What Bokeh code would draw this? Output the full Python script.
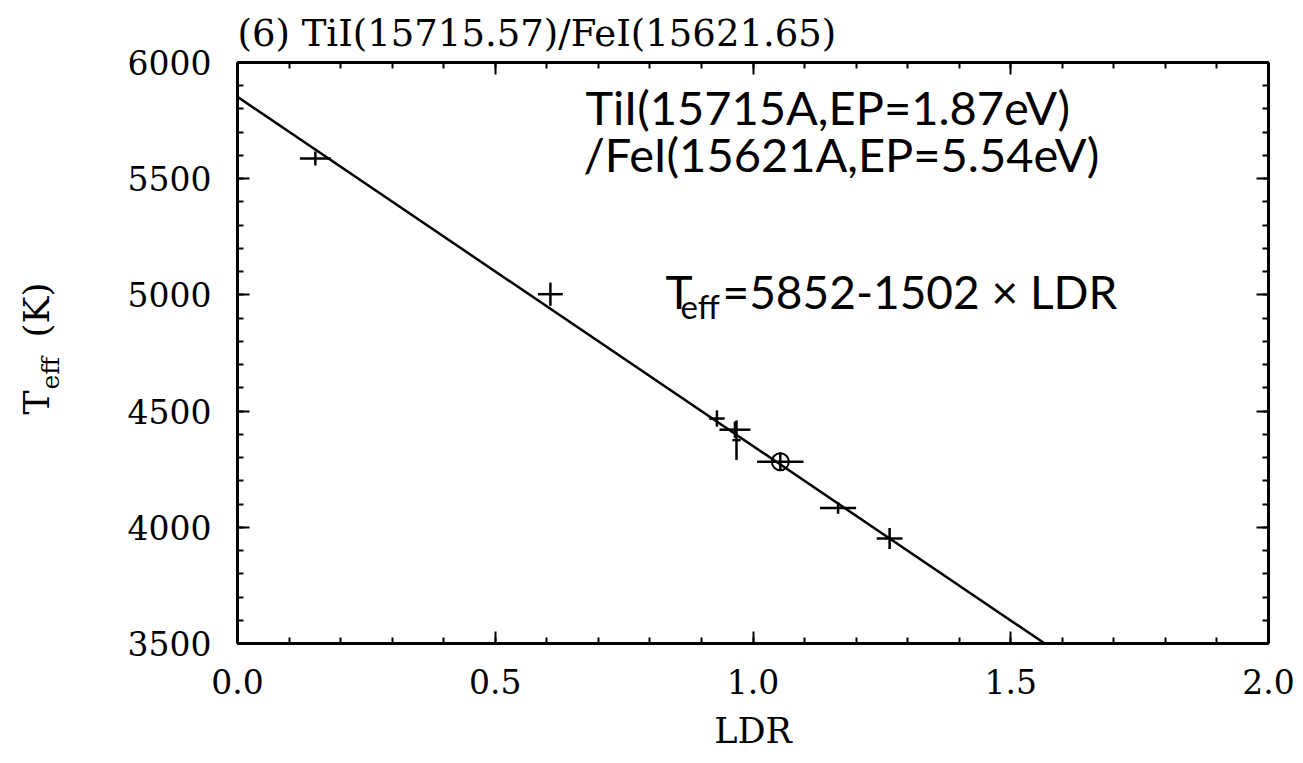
import math
from bokeh.plotting import figure
from bokeh.layouts import row
from bokeh.models import (Range1d, LinearAxis, FixedTicker, Label, CustomJSTickFormatter,
                          PrintfTickFormatter)
from bokeh.embed import file_html
from bokeh.resources import INLINE

# ---- data ----
ldr = [0.151, 0.607, 0.930, 0.965, 0.968, 1.053, 1.165, 1.265]
teff = [5587, 5003, 4468, 4420, 4375, 4282, 4083, 3952]
ldr_err = [0.030, 0.024, 0.015, 0.030, 0.008, 0.045, 0.035, 0.025]
teff_err = [30, 50, 35, 35, 85, 40, 25, 45]
circled = [5]
fit_a, fit_b = 5852, -1502
x_ticks = [0.0, 0.5, 1.0, 1.5, 2.0]
y_ticks = [3500, 4000, 4500, 5000, 5500, 6000]
title_text = "(6) TiI(15715.57)/FeI(15621.65)"

SERIF = "DejaVu Serif"
SANS = "Lato"

W, H = 1303, 763
LW = 90                 # width of the strip holding the y-axis title
FL, FB = 237, 643       # main frame left / bottom in page pixels
BASE = 0.36             # alphabetic-baseline correction (fraction of font size)
YSHIFT = 116            # empirical vertical correction in the strip

# ---------- strip with the rotated y-axis title ----------
yf = figure(width=LW, height=H, output_backend="svg", toolbar_location=None,
            x_range=Range1d(0, 1), y_range=Range1d(0, 1),
            x_axis_location=None, y_axis_location=None,
            min_border_left=0, min_border_right=0, min_border_top=0, min_border_bottom=0)
yf.grid.visible = False
yf.outline_line_color = None
yf.border_fill_color = "white"
yf.background_fill_color = "white"


def ylab(cx, cy, text, size):
    yf.add_layout(Label(x=cx - BASE * size, y=H - cy - YSHIFT, x_units="screen",
                        y_units="screen", angle=math.pi / 2, text=text, text_font=SERIF,
                        text_font_size=f"{size}px", text_color="black",
                        text_baseline="alphabetic", text_align="left"))


ylab(49, 418, "T", 36)
ylab(59, 393, "eff", 25)
ylab(49, 341, "(K)", 36)

# ---------- main plot ----------
p = figure(width=W - LW, height=H, output_backend="svg", toolbar_location=None,
           x_range=Range1d(0, 2.0), y_range=Range1d(3500, 6000),
           x_axis_location=None, y_axis_location=None,
           min_border_left=FL - LW, min_border_right=35, min_border_top=62,
           min_border_bottom=H - FB)
p.grid.visible = False
p.outline_line_color = None
p.background_fill_color = "white"
p.border_fill_color = "white"

p.title.text = title_text
p.title.text_font = SERIF
p.title.text_font_size = "37px"
p.title.text_font_style = "normal"
p.title.text_color = "black"
p.title.align = "left"
p.title.standoff = 15


def style(ax, show):
    ax.axis_line_width = 3
    ax.axis_line_color = "black"
    ax.major_tick_in = 12
    ax.major_tick_out = 0
    ax.minor_tick_in = 6
    ax.minor_tick_out = 0
    ax.major_tick_line_width = 2
    ax.minor_tick_line_width = 2
    ax.major_label_text_font = SERIF
    ax.major_label_text_font_size = "33px"
    ax.major_label_text_color = "black"
    if not show:
        ax.formatter = CustomJSTickFormatter(code="return ''")
        ax.major_label_text_font_size = "1px"
        ax.major_label_standoff = 0


xt = FixedTicker(ticks=x_ticks, minor_ticks=[i / 10 for i in range(21)])
yt = FixedTicker(ticks=y_ticks, minor_ticks=list(range(3500, 6001, 100)))

for loc in ["below", "above"]:
    ax = LinearAxis(ticker=xt)
    style(ax, loc == "below")
    if loc == "below":
        ax.formatter = PrintfTickFormatter(format="%.1f")
        ax.major_label_standoff = 25
        ax.axis_label = "LDR"
        ax.axis_label_text_font = SERIF
        ax.axis_label_text_font_size = "35px"
        ax.axis_label_text_font_style = "normal"
        ax.axis_label_text_color = "black"
        ax.axis_label_standoff = 14
    p.add_layout(ax, loc)

for loc in ["left", "right"]:
    ax = LinearAxis(ticker=yt)
    style(ax, loc == "left")
    if loc == "left":
        ax.major_label_standoff = 26
    p.add_layout(ax, loc)

# fit line
xs = [0.0, 2.0]
p.line(xs, [fit_a + fit_b * x for x in xs], line_color="black", line_width=2.5)

# error bars
p.segment(x0=[x - e for x, e in zip(ldr, ldr_err)], y0=teff,
          x1=[x + e for x, e in zip(ldr, ldr_err)], y1=teff,
          line_color="black", line_width=2.5)
p.segment(x0=ldr, y0=[y - e for y, e in zip(teff, teff_err)],
          x1=ldr, y1=[y + e for y, e in zip(teff, teff_err)],
          line_color="black", line_width=2.5)
p.scatter([ldr[i] for i in circled], [teff[i] for i in circled], marker="circle",
          size=17, fill_color=None, line_color="black", line_width=2)


def lab(cx, cy, text, size):
    p.add_layout(Label(x=cx - FL, y=FB - cy + BASE * size, x_units="screen", y_units="screen",
                       text=text, text_font=SANS, text_font_size=f"{size}px",
                       text_color="black", text_baseline="alphabetic", text_align="left"))


# annotations inside the frame
lab(585, 123, "TiI(15715A,EP=1.87eV)", 47)
lab(583, 170, "/FeI(15621A,EP=5.54eV)", 47)
lab(665, 308, "T", 46)
lab(680, 317, "eff", 33)
lab(722, 308, "=5852-1502 × LDR", 46)

layout = row(yf, p, spacing=0)
open("out.html", "w").write(file_html(layout, INLINE))
